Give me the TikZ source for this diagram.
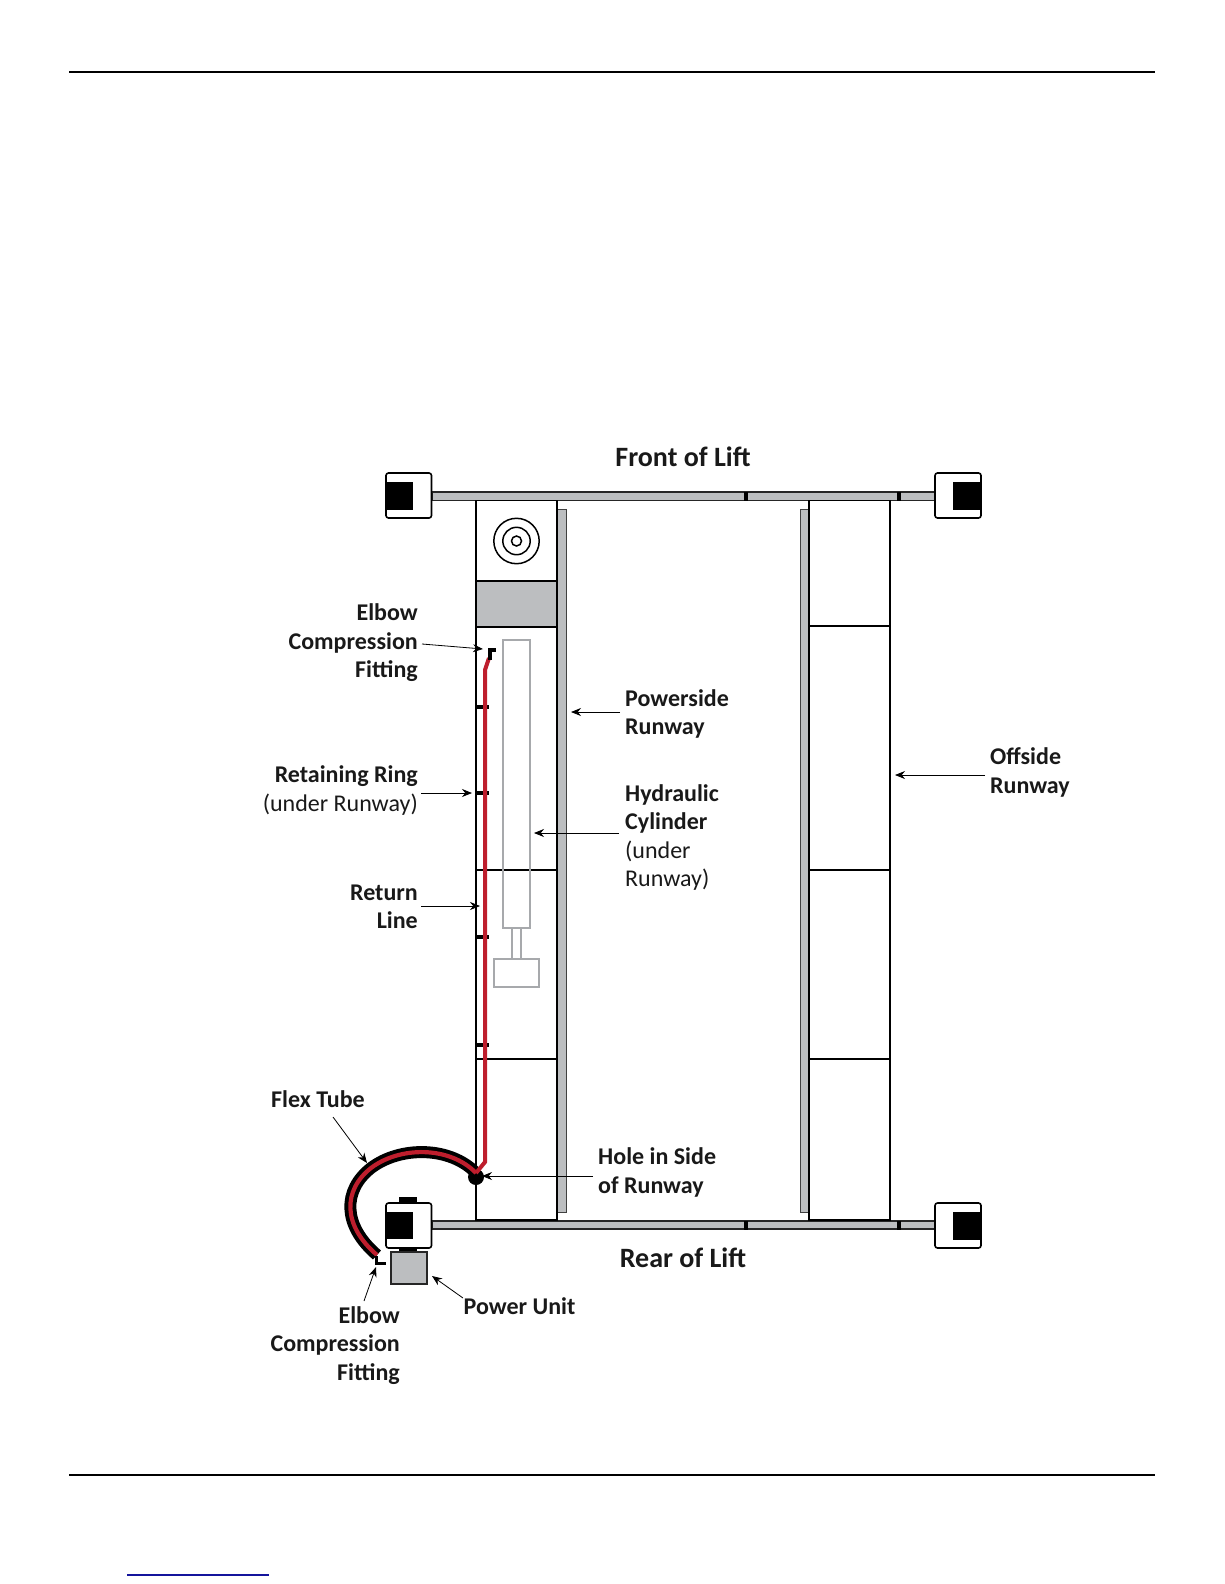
\documentclass[tikz,border=0pt]{standalone}
\usepackage{fontspec}
\setmainfont{Carlito}
\usetikzlibrary{arrows.meta}
\definecolor{steelgrey}{HTML}{BCBEC0}
\definecolor{cylgrey}{HTML}{A7A9AC}
\definecolor{tubered}{HTML}{BE1E2D}
\definecolor{linkblue}{HTML}{14149C}
\tikzset{
  x=1pt,y=-1pt,
  rule/.style={black,line width=1.2pt},
  post/.style={draw=black,fill=white,line width=1.6pt,rounded corners=2.5pt},
  bar/.style={draw=black!85,fill=steelgrey,line width=1.1pt},
  runway/.style={draw=black,line width=1.7pt},
  divider/.style={black,line width=2pt},
  strip/.style={draw=black!75,fill=steelgrey,line width=1pt},
  cyl/.style={draw=cylgrey,line width=2pt},
  ring/.style={black,line width=4.5pt},
  redline/.style={tubered,line width=4pt,line join=miter},
  lead/.style={-{Stealth[length=10pt,width=8pt]},line width=.8pt,black},
  lab/.style={font=\fontsize{24}{28.5}\selectfont,inner sep=0pt,text=black!90},
  labr/.style={lab,anchor=east,align=right},
  labl/.style={lab,anchor=west,align=left},
  big/.style={font=\fontsize{28}{30}\selectfont\bfseries,inner sep=0pt,text=black!90},
}
\begin{document}
\begin{tikzpicture}
\useasboundingbox (0,0) rectangle (1224,1584);
% page rules
\draw[rule] (69,72) -- (1155,72);
\draw[rule] (69,1475) -- (1155,1475);
\draw[linkblue,line width=1.2pt] (127,1575) -- (269,1575);
% cross bars
\draw[bar] (432,492) rectangle (935,500.5);
\draw[bar] (432,1221) rectangle (935,1229);
\foreach \yy in {492,1221}{
  \fill (744,\yy) rectangle (748,\yy+8.5);
  \fill (897,\yy) rectangle (901,\yy+8.5);
}
% side strips
\draw[strip] (557,509) rectangle (566,1212);
\draw[strip] (800,509) rectangle (809,1212);
% powerside runway
\fill[steelgrey] (476,581) rectangle (557,627);
\draw[runway] (476,500.5) rectangle (557,1220);
\draw[runway] (476,581) -- (557,581);
\draw[black,line width=1.1pt] (476,627) -- (557,627);
\draw[divider] (476,869.5) -- (557,869.5);
\draw[divider] (476,1058.5) -- (557,1058.5);
\draw[line width=1.5pt] (516.5,541) circle (22.7);
\draw[line width=1.5pt] (516.5,541) circle (13.7);
\draw[line width=1.5pt] (516.5,541) circle (5);
% offside runway
\draw[runway] (809,500.5) rectangle (890,1220);
\draw[black,line width=1.1pt] (809,626) -- (890,626);
\draw[divider] (809,869.5) -- (890,869.5);
\draw[divider] (809,1058.5) -- (890,1058.5);
% cylinder
\draw[cyl] (503,640) rectangle (530,927.5);
\draw[cyl] (512,927.5) rectangle (521,959);
\draw[cyl] (494,959) rectangle (539,987);
% posts
\draw[post] (386,473) rectangle (431.5,518);
\fill (386,482) rectangle (413,510);
\draw[post] (935,473) rectangle (981,518);
\fill (953,482) rectangle (981,510);
\fill (399,1197) rectangle (417,1253);
\draw[post] (386,1203) rectangle (431.5,1248);
\fill (386,1212) rectangle (413,1239);
\draw[post] (935,1203) rectangle (981,1248);
\fill (953,1212) rectangle (981,1240);
% power unit
\draw[draw=black!85,fill=steelgrey,line width=1.1pt] (391,1252) rectangle (427,1284);
% retaining rings
\foreach \yy in {707,793,937,1045}{\draw[ring] (476,\yy) -- (489,\yy);}
% hole and flex tube
\fill (476,1177) circle (8);
\coordinate (tubeA) at (476,1173);
\coordinate (tubeB) at (377,1255);
\draw[black,line width=12pt] (tubeA) .. controls (450,1146) and (400,1146) .. (371,1168) .. controls (343,1190) and (342,1225) .. (tubeB);
\draw[tubered,line width=4.2pt] (tubeA) .. controls (450,1146) and (400,1146) .. (371,1168) .. controls (343,1190) and (342,1225) .. (tubeB);
% return line
\draw[redline] (tubeA) -- (485,1162) -- (485,670) -- (489,658);
% elbows
\draw[black,line width=4pt,line join=miter] (489.5,660) -- (489.5,649.5) -- (496,649.5);
\draw[black,line width=3.6pt,line join=miter] (376.5,1256) -- (376.5,1263.5) -- (386,1263.5);
% labels
\node[big,anchor=center] (front) at (683,457) {Front of Lift};
\node[big,anchor=center] (rear) at (683,1258) {Rear of Lift};
\node[labr] (elbowA) at (418,643) {\textbf{Elbow}\\\textbf{Compression}\\\textbf{Fitting}};
\node[labr] (ringlab) at (418,790.5) {\textbf{Retaining Ring}\\(under Runway)};
\node[labr] (returnlab) at (418,907) {\textbf{Return}\\\textbf{Line}};
\node[labl] (powerlab) at (625,714) {\textbf{Powerside}\\\textbf{Runway}};
\node[labl] (cyllab) at (625,837.5) {\textbf{Hydraulic}\\\textbf{Cylinder}\\(under\\Runway)};
\node[labl] (offlab) at (990,772.5) {\textbf{Offside}\\\textbf{Runway}};
\node[labl] (holelab) at (598,1172.5) {\textbf{Hole in Side}\\\textbf{of Runway}};
\node[labl] (flexlab) at (271,1099.5) {\textbf{Flex Tube}};
\node[labl] (unitlab) at (463.5,1306.5) {\textbf{Power Unit}};
\node[labr] (elbowB) at (400,1345.5) {\textbf{Elbow}\\\textbf{Compression}\\\textbf{Fitting}};
% leader targets
\coordinate (tElbowA) at (483,649);
\coordinate (tRing) at (472,793);
\coordinate (tReturn) at (480,906);
\coordinate (tPower) at (571,712);
\coordinate (tCyl) at (534,833);
\coordinate (tOff) at (895,775);
\coordinate (tHole) at (482,1176);
\coordinate (tFlex) at (367,1163);
\coordinate (tUnit) at (432,1276);
\coordinate (tElbowB) at (376,1267);
% leader starts
\coordinate (sElbowA) at (422,644);
\coordinate (sRing) at (421,793);
\coordinate (sReturn) at (421,906);
\coordinate (sPower) at (620,712);
\coordinate (sCyl) at (619,833);
\coordinate (sOff) at (985,775);
\coordinate (sHole) at (593,1176);
\coordinate (sFlex) at (333,1117);
\coordinate (sUnit) at (463,1298);
\coordinate (sElbowB) at (364,1301);
% leaders
\draw[lead] (sElbowA) -- (tElbowA);
\draw[lead] (sRing) -- (tRing);
\draw[lead] (sReturn) -- (tReturn);
\draw[lead] (sPower) -- (tPower);
\draw[lead] (sCyl) -- (tCyl);
\draw[lead] (sOff) -- (tOff);
\draw[lead] (sHole) -- (tHole);
\draw[lead] (sFlex) -- (tFlex);
\draw[lead] (sUnit) -- (tUnit);
\draw[lead] (sElbowB) -- (tElbowB);
\end{tikzpicture}
\end{document}
